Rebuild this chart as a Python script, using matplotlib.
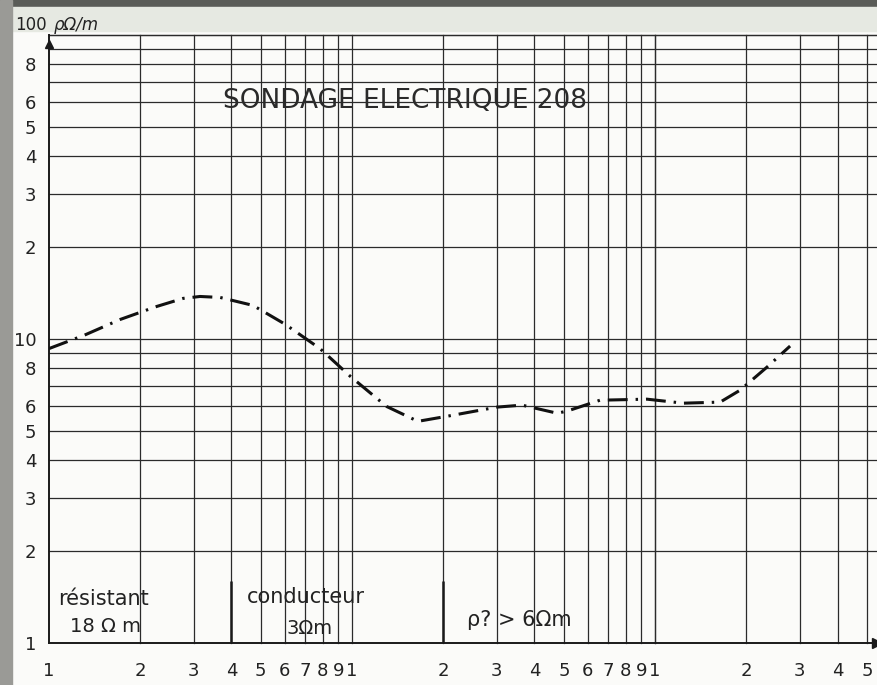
import matplotlib
matplotlib.use("Agg")
import matplotlib.pyplot as plt
from matplotlib.patches import Rectangle
from matplotlib.ticker import FixedLocator, NullLocator

# apparent resistivity curve (AB/2 in m, rho in ohm.m)
ab2 = [1.0, 1.31, 1.72, 2.27, 2.77, 3.15, 3.67, 4.71, 6.0, 7.84, 9.85,
       13.0, 16.5, 20.6, 30.1, 36.4, 47.5, 51.2, 65.8, 94.0, 124, 164,
       191, 234, 279]
rho = [9.3, 10.3, 11.6, 12.8, 13.6, 13.8, 13.7, 12.9, 11.2, 9.3, 7.55,
       6.0, 5.36, 5.57, 5.97, 6.06, 5.7, 5.79, 6.29, 6.34, 6.15, 6.2,
       6.79, 8.08, 9.48]

x_ticks = [1, 2, 3, 4, 5, 6, 7, 8, 9, 10, 20, 30, 40, 50, 60, 70, 80, 90,
           100, 200, 300, 400, 500]
x_labels = ["1", "2", "3", "4", "5", "6", "7", "8", "9", "1",
            "2", "3", "4", "5", "6", "7", "8", "9", "1",
            "2", "3", "4", "5"]
y_ticks = [1, 2, 3, 4, 5, 6, 8, 10, 20, 30, 40, 50, 60, 80]
y_labels = ["1", "2", "3", "4", "5", "6", "8", "10",
            "2", "3", "4", "5", "6", "8"]
grid_vals = [m * 10 ** k for k in range(3) for m in range(1, 10)] + [100]

zone_bounds = [4, 20]

fig = plt.figure(figsize=(8.77, 6.85), dpi=100, facecolor="#fbfbf9")

# scanned page edges, kept behind the axes
edges = [((0, 0.99), 1, 0.01, "#5a5c58"),
         ((0, 0.955), 1, 0.035, "#e6e9e2"),
         ((0, 0), 0.014, 1, "#9a9a96")]
for xy, w, h, col in edges:
    fig.patches.append(Rectangle(xy, w, h, transform=fig.transFigure,
                                 color=col, zorder=-5))

ax = fig.add_axes([49 / 877, 42 / 685, 1 - 49 / 877, 608 / 685])
ax.set_facecolor("none")
ax.set_xscale("log")
ax.set_yscale("log")
ax.set_xlim(1, 540)
ax.set_ylim(1, 100)

grid_kw = dict(color="#2b2b2b", lw=0.9, zorder=1, clip_on=False)
for v in grid_vals:
    if v > 1 and v < 540:
        ax.axvline(v, **grid_kw)
    if 1 < v <= 100:
        ax.axhline(v, **grid_kw)

ax.xaxis.set_major_locator(FixedLocator(x_ticks))
ax.xaxis.set_minor_locator(NullLocator())
ax.set_xticklabels(x_labels)
ax.yaxis.set_major_locator(FixedLocator(y_ticks))
ax.yaxis.set_minor_locator(NullLocator())
ax.set_yticklabels(y_labels)
ax.tick_params(length=0, labelsize=13, labelcolor="#222222")
ax.tick_params(axis="x", pad=14)
ax.tick_params(axis="y", pad=9)

for s in ("top", "right"):
    ax.spines[s].set_visible(False)
for s in ("left", "bottom"):
    ax.spines[s].set_linewidth(1.4)
    ax.spines[s].set_color("#1a1a1a")

ax.plot(1, 0, ">", color="#1a1a1a", ms=7, transform=ax.transAxes,
        clip_on=False)
ax.plot(0, 0.985, "^", color="#1a1a1a", ms=6, transform=ax.transAxes,
        clip_on=False)

ax.plot(ab2, rho, color="#111111", lw=2.2, linestyle=(0, (6.5, 2.6, 0.8, 2.6)),
        zorder=3)

ax.text(0.985, 100.5, "100", ha="right", va="bottom", fontsize=12,
        color="#222222")
ax.text(1.04, 101, "ρΩ/m", ha="left", va="bottom", fontsize=12,
        style="italic", color="#222222")

ax.text(15, 60.5, "SONDAGE ELECTRIQUE 208", ha="center", va="center",
        fontsize=19, color="#2a2a2a")

ax.vlines(zone_bounds, 1, 1.6, color="#1a1a1a", lw=1.8, zorder=2)

ax.text(1.07, 1.40, "résistant", ha="left", va="center", fontsize=15,
        color="#222222")
ax.text(1.17, 1.13, "18 Ω m", ha="left", va="center", fontsize=14,
        color="#222222")
ax.text(4.5, 1.42, "conducteur", ha="left", va="center", fontsize=15,
        color="#222222")
ax.text(6.1, 1.12, "3Ωm", ha="left", va="center", fontsize=14,
        color="#222222")
ax.text(24, 1.19, "ρ? > 6Ωm", ha="left", va="center", fontsize=15,
        color="#222222")

fig.savefig("out.png", dpi=100, facecolor=fig.get_facecolor())
